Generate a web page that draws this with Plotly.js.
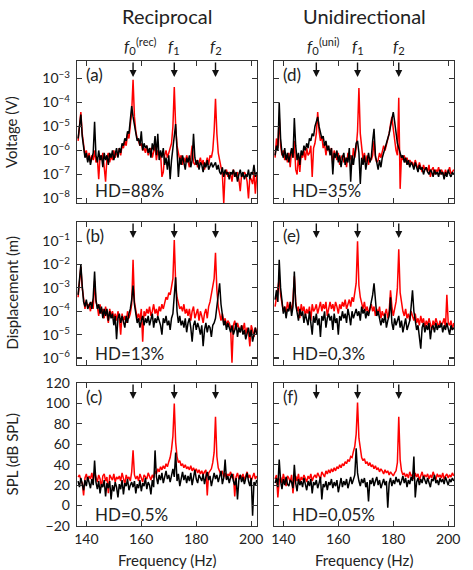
<!DOCTYPE html>
<html>
<head>
<meta charset="utf-8">
<script src="https://cdn.plot.ly/plotly-3.0.1.min.js"></script>
<style>
  html, body { margin: 0; padding: 0; background: #fff; }
  #chart { width: 473px; height: 570px; }
</style>
</head>
<body>
<div id="chart"></div>
<script>
// Voltage and displacement are stored as log10 of the amplitude.
const FREQ_START = 137;
const FREQ_STEP = 0.5;

// (a) Reciprocal, voltage, log10(V)
const voltRecRed = [
  -5.6, -5.0, -4.4, -5.3, -5.9, -6.2, -6.0, -6.4, -6.1, -6.5,
  -6.2, -6.4, -6.0, -6.5, -6.3, -7.2, -6.2, -6.4, -6.1, -6.6,
  -7.3, -6.3, -6.1, -6.5, -6.2, -6.4, -6.0, -6.3, -6.1, -6.2,
  -5.9, -6.2, -5.8, -5.9, -5.6, -5.8, -5.3, -5.5, -4.9, -4.4,
  -3.05, -4.6, -5.2, -5.5, -5.6, -5.8, -5.7, -6.0, -5.9, -6.1,
  -5.8, -6.2, -6.0, -5.9, -6.3, -6.1, -5.8, -6.4, -6.0, -6.2,
  -6.1, -7.1, -6.9, -6.2, -6.0, -6.3, -6.1, -5.9, -5.7, -5.0,
  -3.35, -5.0, -5.8, -6.1, -6.4, -6.2, -6.6, -6.3, -6.5, -6.2,
  -6.4, -6.7, -6.3, -5.8, -6.5, -6.6, -6.4, -6.7, -6.5, -6.3,
  -6.6, -6.4, -6.8, -6.5, -6.3, -6.6, -6.2, -6.3, -6.0, -5.2,
  -3.85, -5.3, -6.1, -6.4, -6.8, -7.0, -8.2, -6.9, -6.8, -7.1,
  -6.9, -7.0, -7.3, -6.8, -7.0, -7.1, -6.9, -7.2, -7.7, -7.0,
  -7.1, -6.9, -7.0, -7.3, -8.0, -7.1, -7.2, -7.4, -6.9, -7.8,
  -7.0
];
const voltRecBlack = [
  -5.5, -5.1, -4.5, -5.4, -6.0, -6.3, -6.1, -6.5, -6.2, -6.6,
  -6.3, -6.1, -4.8, -6.2, -6.5, -6.0, -6.4, -6.2, -6.7, -6.1,
  -6.4, -6.2, -6.6, -6.1, -6.3, -6.0, -6.4, -6.2, -5.9, -6.3,
  -5.9, -6.1, -5.7, -5.8, -5.5, -5.6, -5.2, -5.3, -4.8, -4.15,
  -4.6, -5.0, -5.3, -5.6, -5.5, -5.8, -5.2, -6.0, -5.7, -5.9,
  -5.8, -6.1, -5.9, -6.3, -5.7, -6.0, -5.4, -6.2, -5.3, -6.4,
  -6.0, -6.3, -5.9, -6.6, -6.3, -6.8, -6.2, -7.2, -6.4, -6.0,
  -5.4, -4.9, -6.0, -7.1, -6.3, -6.6, -6.2, -6.5, -6.8, -6.3,
  -6.5, -6.2, -6.7, -6.4, -5.3, -6.3, -6.6, -6.4, -6.8, -6.5,
  -6.6, -6.9, -6.5, -6.7, -6.4, -6.8, -6.6, -6.5, -6.7, -6.6,
  -6.5, -6.8, -6.6, -6.9, -7.0, -6.7, -7.1, -6.8, -7.0, -6.9,
  -7.2, -6.9, -7.0, -6.8, -7.1, -6.9, -7.3, -7.0, -6.8, -7.1,
  -6.9, -7.2, -7.0, -7.1, -6.8, -7.2, -6.9, -7.0, -6.6, -7.1,
  -6.9
];

// (b) Reciprocal, displacement, log10(m)
const dispRecRed = [
  -3.4, -2.7, -2.1, -3.0, -3.5, -3.9, -3.6, -3.8, -3.7, -4.0,
  -3.6, -3.9, -2.7, -3.6, -3.8, -4.2, -3.7, -4.1, -3.9, -4.3,
  -3.8, -4.1, -4.5, -3.9, -4.2, -4.0, -4.3, -4.1, -4.4, -4.0,
  -4.3, -5.0, -4.1, -4.4, -4.2, -4.5, -4.0, -4.3, -4.1, -3.7,
  -1.8, -3.6, -4.0, -4.3, -4.1, -4.4, -3.9, -5.3, -4.0, -4.2,
  -3.9, -4.1, -3.8, -4.2, -4.0, -3.7, -4.1, -3.9, -4.2, -3.8,
  -4.0, -3.7, -3.9, -3.6, -3.4, -3.5, -3.2, -3.3, -3.0, -2.6,
  -0.95, -2.8, -3.4, -3.7, -3.9, -3.8, -4.0, -3.7, -4.1, -3.9,
  -4.2, -3.9, -4.4, -4.0, -3.8, -4.3, -4.1, -3.9, -4.4, -4.0,
  -4.2, -4.5, -4.1, -3.9, -4.3, -3.8, -3.6, -3.3, -3.0, -2.6,
  -1.5, -3.1, -3.8, -4.2, -4.4, -4.1, -4.5, -4.3, -4.6, -4.4,
  -4.5, -4.7, -6.2, -4.6, -4.4, -4.8, -4.5, -4.7, -4.9, -4.6,
  -4.8, -4.5, -5.0, -4.7, -4.9, -5.5, -4.6, -4.8, -5.1, -4.7,
  -4.9
];
const dispRecBlack = [
  -3.3, -2.6, -2.0, -2.9, -3.6, -3.8, -3.5, -3.9, -3.7, -3.6,
  -3.9, -3.4, -2.3, -3.5, -3.9, -3.7, -4.1, -3.8, -4.3, -3.9,
  -4.2, -3.9, -4.4, -4.0, -4.3, -4.1, -4.6, -4.2, -5.2, -4.3,
  -4.1, -4.5, -4.2, -4.4, -4.7, -4.2, -4.5, -4.1, -3.9, -3.5,
  -2.9, -3.7, -4.2, -4.5, -4.3, -4.7, -4.4, -4.2, -4.6, -4.3,
  -4.5, -4.2, -4.6, -4.4, -4.1, -4.7, -4.3, -4.5, -4.2, -4.4,
  -4.6, -5.0, -4.3, -4.5, -4.2, -4.6, -4.4, -4.8, -4.3, -4.1,
  -3.4, -2.55, -4.0, -4.5, -4.2, -4.6, -4.4, -4.7, -4.3, -4.9,
  -4.5, -4.3, -4.7, -5.3, -4.6, -4.4, -4.8, -4.5, -4.7, -5.0,
  -4.6, -5.5, -4.8, -4.5, -4.9, -4.6, -4.7, -5.1, -4.6, -4.5,
  -4.3, -3.8, -3.4, -2.8, -3.7, -4.2, -4.6, -4.4, -4.8, -4.5,
  -4.7, -4.9, -4.6, -5.0, -4.8, -4.5, -5.1, -4.7, -4.9, -4.6,
  -5.0, -4.8, -5.2, -4.9, -4.7, -5.1, -4.8, -5.3, -4.9, -4.7,
  -5.0
];

// (c) Reciprocal, SPL in dB
const splRecRed = [
  28, 30, 25, 22, 10, 27, 31, 24, 29, 26,
  32, 25, 33, 27, 23, 30, 26, 18, 29, 31,
  24, 28, 12, 30, 27, 25, 31, 23, 28, 26,
  29, 24, 32, 27, 21, 30, 26, 28, 24, 33,
  54, 30, 26, 29, 24, 31, 27, 23, 30, 28,
  26, 32, 28, 25, 30, 27, 34, 31, 36, 33,
  38, 35, 39, 36, 41, 38, 43, 47, 55, 68,
  100, 62, 48, 42, 44, 39, 41, 37, 40, 36,
  38, 35, 39, 34, 37, 33, 36, 32, 35, 31,
  34, 30, 33, 35, 10, 32, 34, 36, 42, 52,
  87, 48, 37, 33, 30, 34, 28, 32, 26, 31,
  29, 33, 27, 31, 9, 28, 32, 26, 30, 27,
  31, 25, 29, 33, 27, 30, 24, 28, 32, 26,
  29
];
const splRecBlack = [
  24, 18, 27, 21, 15, 25, 19, 28, 22, 17,
  26, 20, 44, 23, 16, 24, 12, 21, 18, 25,
  9, 22, 17, 24, 6, 20, 14, 23, 18, 8,
  21, 16, 25, 11, 22, 19, 26, 15, 20, 23,
  18, 24, 12, 21, 17, 25, 14, 22, 19, 27,
  16, 23, 20, 11, 25, 18, 54, 28, 21, 30,
  25, 32, 22, 29, 34, 26, 30, 23, 31, 36,
  28, 52, 24, 31, 19, 27, 33, 25, 30, 22,
  29, 24, 32, 20, 28, 35, 26, 22, 30, 27,
  24, 31, 21, 28, 33, 25, 29, 19, 27, 32,
  26, 30, 23, 28, 34, 21, 27, 45, 25, 29,
  22, 28, 31, 24, 20, 27, 6, 25, 30, 23,
  28, 21, 26, 32, 24, 19, 27, -10, 23, 20,
  25
];

// (d) Unidirectional, voltage, log10(V)
const voltUniRed = [
  -6.3, -5.5, -5.9, -4.6, -5.8, -6.2, -6.0, -6.4, -6.2, -6.5,
  -6.1, -6.7, -6.0, -6.3, -5.6, -6.8, -7.0, -6.2, -6.9, -6.1,
  -6.3, -6.0, -6.4, -5.9, -6.2, -6.1, -5.8, -7.1, -5.9, -5.7,
  -5.3, -4.4, -5.2, -5.6, -5.4, -5.9, -5.7, -6.2, -5.8, -6.0,
  -6.1, -5.9, -6.6, -6.0, -6.2, -6.4, -6.1, -6.6, -6.3, -6.2,
  -6.5, -6.3, -6.7, -6.1, -6.4, -6.2, -6.6, -5.9, -6.3, -5.9,
  -5.2, -3.4, -5.3, -6.0, -6.4, -6.1, -6.5, -6.2, -6.6, -6.3,
  -6.4, -6.2, -5.6, -6.3, -6.5, -6.4, -6.1, -6.3, -6.0, -5.8,
  -6.0, -5.8, -5.6, -5.3, -4.9, -4.6, -5.1, -5.6, -6.0, -6.2,
  -3.8, -7.6, -6.2, -6.4, -6.2, -6.5, -6.3, -6.6, -6.4, -6.5,
  -6.5, -6.7, -6.4, -6.6, -6.8, -6.5, -6.7, -6.9, -6.6, -6.8,
  -6.7, -6.9, -6.6, -7.1, -6.8, -6.7, -7.0, -6.8, -6.9, -6.7,
  -7.0, -6.8, -6.9, -7.1, -6.8, -7.0, -6.9, -6.7, -7.0, -6.9,
  -6.8
];
const voltUniBlack = [
  -6.2, -5.8, -6.0, -4.0, -5.5, -6.1, -6.3, -5.9, -6.4, -6.1,
  -6.5, -6.2, -5.9, -6.3, -4.65, -5.8, -6.4, -6.1, -6.6, -6.0,
  -6.2, -5.8, -6.0, -5.7, -5.9, -5.5, -5.6, -5.3, -5.4, -5.0,
  -4.8, -4.6, -5.0, -5.3, -5.5, -5.4, -5.8, -5.6, -6.0, -5.8,
  -6.2, -5.9, -7.0, -6.1, -6.3, -6.0, -6.5, -6.2, -6.7, -6.3,
  -6.1, -6.6, -6.3, -6.5, -5.9, -7.3, -6.2, -6.6, -6.0, -5.7,
  -5.6, -6.1, -7.4, -6.3, -6.6, -6.2, -6.8, -6.4, -6.1, -6.5,
  -6.3, -5.6, -5.1, -6.2, -6.6, -6.8, -6.4, -6.7, -6.3, -6.1,
  -6.0, -5.8, -5.6, -5.3, -5.0, -4.6, -4.4, -4.8, -5.3, -5.7,
  -5.9, -6.1, -6.3, -6.2, -6.5, -6.3, -6.6, -6.4, -6.7, -6.5,
  -6.6, -6.8, -6.5, -6.7, -6.9, -6.6, -6.8, -6.7, -7.0, -6.8,
  -6.7, -6.9, -7.0, -6.8, -6.9, -7.1, -6.8, -7.0, -6.9, -7.1,
  -6.8, -7.0, -6.9, -7.2, -6.9, -7.1, -6.8, -7.0, -7.1, -6.9,
  -7.0
];

// (e) Unidirectional, displacement, log10(m)
const dispUniRed = [
  -3.8, -3.4, -3.0, -2.6, -3.3, -3.7, -4.0, -3.8, -4.1, -3.6,
  -3.9, -3.7, -4.0, -3.5, -2.5, -3.6, -4.0, -3.8, -4.3, -3.7,
  -4.0, -3.8, -4.2, -3.9, -4.1, -3.8, -4.4, -3.7, -4.0, -3.9,
  -3.7, -4.1, -3.8, -3.6, -4.0, -3.7, -3.9, -3.6, -4.2, -3.8,
  -3.6, -3.9, -3.7, -4.0, -3.6, -3.8, -4.1, -3.7, -3.9, -3.6,
  -3.8, -3.5, -3.9, -3.7, -3.5, -3.8, -3.4, -3.6, -3.2, -2.8,
  -1.0, -2.9, -3.4, -3.7, -3.9, -3.6, -4.0, -3.8, -4.1, -3.9,
  -3.7, -4.0, -3.8, -4.2, -3.9, -4.1, -3.8, -4.3, -4.0, -4.2,
  -4.1, -3.9, -4.3, -4.0, -3.1, -3.8, -4.2, -3.9, -3.6, -3.0,
  -1.35, -3.2, -3.7, -4.0, -4.2, -3.9, -4.3, -4.1, -4.4, -4.0,
  -4.2, -4.4, -4.1, -4.5, -4.3, -4.6, -4.2, -4.5, -4.3, -4.7,
  -4.4, -4.6, -4.3, -4.5, -4.8, -4.4, -4.6, -4.3, -4.5, -4.7,
  -4.4, -4.6, -4.5, -4.3, -4.7, -3.3, -4.5, -4.6, -4.4, -4.8,
  -4.5
];
const dispUniBlack = [
  -3.5, -3.1, -3.6, -1.8, -3.0, -3.6, -4.1, -3.8, -4.3, -3.9,
  -4.0, -3.6, -4.2, -3.8, -2.3, -3.7, -4.1, -4.4, -3.9, -4.2,
  -4.0, -4.5, -4.1, -4.3, -4.6, -4.0, -4.4, -5.0, -4.2, -4.5,
  -4.1, -4.6, -4.3, -5.1, -4.2, -4.4, -4.0, -4.7, -4.3, -4.1,
  -4.4, -4.2, -4.8, -4.1, -4.5, -4.3, -5.0, -4.2, -4.4, -4.0,
  -4.3, -4.1, -4.5, -3.9, -4.2, -4.6, -4.0, -4.3, -4.1, -3.9,
  -4.2, -4.0, -4.4, -3.8, -4.1, -3.9, -4.3, -4.0, -4.2, -3.9,
  -3.7, -3.3, -2.8, -3.6, -4.2, -4.0, -4.4, -4.6, -4.3, -4.5,
  -4.1, -4.7, -4.4, -4.2, -3.4, -4.5, -4.8, -4.3, -4.6, -4.4,
  -4.2, -4.7, -4.4, -4.9, -4.5, -4.3, -4.8, -4.6, -4.4, -3.8,
  -3.1, -4.0, -4.5, -4.8, -4.6, -5.0, -5.6, -4.7, -4.5, -4.9,
  -4.6, -4.8, -4.5, -5.2, -4.7, -4.6, -4.9, -4.5, -4.8, -4.6,
  -4.7, -4.5, -4.9, -4.6, -4.8, -4.5, -4.7, -5.0, -4.6, -4.8,
  -4.7
];

// (f) Unidirectional, SPL in dB
const splUniRed = [
  26, 30, 8, 24, 28, 22, 31, 25, 19, 29,
  27, 23, 30, 12, 26, 29, 24, 31, 22, 28,
  25, 30, 27, 23, 29, 26, 31, 24, 28, 30,
  27, 32, 29, 26, 33, 30, 28, 34, 31, 35,
  32, 36, 33, 37, 34, 38, 36, 40, 37, 41,
  39, 43, 41, 45, 43, 48, 47, 53, 58, 70,
  101, 66, 53, 47, 44, 46, 41, 43, 39, 42,
  38, 40, 36, 39, 35, 37, 33, 36, 34, 31,
  35, 32, 34, 30, 33, 31, 29, 32, 34, 42,
  87, 45, 34, 30, 32, 28, 31, 27, 33, 29,
  30, 26, 32, 28, 31, 25, 29, 33, 27, 30,
  28, 31, 26, 30, 27, 33, 29, 25, 31, 28,
  30, 27, 32, 26, 29, 31, 27, 30, 28, 32,
  29
];
const splUniBlack = [
  22, 27, 18, 45, 24, 16, 26, 20, 28, 21,
  19, 25, 23, 17, 40, 22, 14, 26, 20, 24,
  18, 27, 21, 15, 24, 19, 26, 12, 23, 20,
  25, 17, 22, 28, 6, 21, 18, 24, 15, 23,
  20, 26, 17, 23, 19, 25, 13, 22, 27, 18,
  24, 20, 26, 17, 23, 28, 21, 25, 30, 56,
  32, 24, 19, 26, 22, 27, 18, 23, 4, 25,
  21, 27, 19, 24, 28, 20, 25, 17, 23, 26,
  20, 24, -2, 22, 27, 19, 25, 21, 28, 23,
  26, 20, 24, 29, 22, 27, 18, 25, 21, 28,
  24, 48, 8, 23, 27, 20, 26, 22, 29, 24,
  21, 27, 23, 18, 26, 24, 30, 22, 25, 20,
  27, 23, 26, 21, 28, 24, 20, 26, 23, 27,
  24
];

// Marked frequencies (Hz)
const markRec = [157, 172, 187];
const markUni = [152, 167, 182];
const panelNames = ['(a)', '(b)', '(c)', '(d)', '(e)', '(f)'];
const hdValues = ['88%', '13%', '0.5%', '35%', '0.3%', '0.05%'];
const rowTitles = ['Voltage (V)', 'Displacement (m)', 'SPL (dB SPL)'];
const colTitles = ['Reciprocal', 'Unidirectional'];
const logTicksV = [-8, -7, -6, -5, -4, -3];
const logTicksD = [-6, -5, -4, -3, -2, -1];

// ---- layout geometry (pixels) ----
const W = 473, H = 570;
const FONT = 'Lato, "Open Sans", sans-serif';
const INK = '#222';
const colPx = [[77, 257], [274, 454]];
const rowPx = [[61, 203], [222, 365], [383, 526]];
const px = v => v / W;
const py = v => 1 - v / H;

const series = [
  [voltRecRed, voltRecBlack], [dispRecRed, dispRecBlack], [splRecRed, splRecBlack],
  [voltUniRed, voltUniBlack], [dispUniRed, dispUniBlack], [splUniRed, splUniBlack]
];

const traces = [];
const layout = {
  width: W, height: H,
  margin: { l: 0, r: 0, t: 0, b: 0 },
  paper_bgcolor: '#fff', plot_bgcolor: '#fff',
  showlegend: false,
  font: { family: FONT, size: 14, color: INK },
  annotations: []
};

function superExp(v) {
  return '10<sup>\u2212' + Math.abs(v) + '</sup>';
}

series.forEach((pair, k) => {
  const col = k < 3 ? 0 : 1;
  const row = k % 3;
  const n = k + 1;
  const xName = n === 1 ? 'x' : 'x' + n;
  const yName = n === 1 ? 'y' : 'y' + n;

  ['#ff0000', '#000000'].forEach((c, j) => {
    traces.push({
      type: 'scatter', mode: 'lines',
      y: pair[j], x0: FREQ_START, dx: FREQ_STEP,
      xaxis: xName, yaxis: yName,
      line: { color: c, width: 1.5 },
      hoverinfo: 'skip'
    });
  });

  const common = {
    showline: true, linecolor: '#333', linewidth: 1.3,
    mirror: 'ticks', ticks: 'inside', ticklen: 5, tickwidth: 1.2, tickcolor: '#333',
    showgrid: false, zeroline: false,
    tickfont: { family: FONT, size: 14, color: INK }
  };

  layout['xaxis' + (n === 1 ? '' : n)] = Object.assign({}, common, {
    domain: [px(colPx[col][0]), px(colPx[col][1])],
    anchor: yName,
    range: [136.6, 202.1],
    tickmode: 'linear', tick0: 140, dtick: 20,
    showticklabels: row === 2,
    ticklabelstandoff: 0
  });

  const yax = Object.assign({}, common, {
    domain: [py(rowPx[row][1]), py(rowPx[row][0])],
    anchor: xName,
    showticklabels: col === 0,
    ticklabelstandoff: 3
  });
  if (row === 0) {
    Object.assign(yax, { range: [-8.19, -2.27], tickmode: 'array', tickvals: logTicksV, ticktext: logTicksV.map(superExp) });
  } else if (row === 1) {
    Object.assign(yax, { range: [-6.3, -0.18], tickmode: 'array', tickvals: logTicksD, ticktext: logTicksD.map(superExp) });
  } else {
    Object.assign(yax, { range: [-20, 120], tickmode: 'linear', tick0: 0, dtick: 20 });
  }
  layout['yaxis' + (n === 1 ? '' : n)] = yax;

  // arrows marking f0, f1, f2
  const marks = col === 0 ? markRec : markUni;
  marks.forEach(f => {
    layout.annotations.push({
      xref: xName, yref: 'paper', x: f, y: py(rowPx[row][0] + 16),
      text: '', showarrow: true, ax: 0, ay: -16,
      arrowhead: 2, arrowsize: 1, arrowwidth: 1.4, arrowcolor: '#111'
    });
  });

  // panel letter and HD value
  layout.annotations.push({
    xref: 'paper', yref: 'paper', x: px(colPx[col][0] + 7), y: py(rowPx[row][0] + 14),
    xanchor: 'left', yanchor: 'middle', showarrow: false,
    text: panelNames[k], font: { size: 17, color: INK }
  });
  layout.annotations.push({
    xref: 'paper', yref: 'paper', x: px(colPx[col][0] + 16), y: py(rowPx[row][1] - 12),
    xanchor: 'left', yanchor: 'middle', showarrow: false,
    text: 'HD=' + hdValues[k], font: { size: 17, color: INK }
  });
});

// f labels above the top row
[[markRec, 'x', '(rec)'], [markUni, 'x4', '(uni)']].forEach(([marks, xr, sup]) => {
  layout.annotations.push({
    xref: xr, yref: 'paper', x: marks[0], y: py(59), xanchor: 'center', yanchor: 'bottom',
    xshift: -3, showarrow: false, text: '<i>f</i><sub>0</sub>', font: { size: 16, color: INK }
  });
  layout.annotations.push({
    xref: xr, yref: 'paper', x: marks[0], y: py(41), xanchor: 'left', yanchor: 'middle',
    xshift: 1, showarrow: false, text: sup, font: { size: 11, color: INK }
  });
  layout.annotations.push({
    xref: xr, yref: 'paper', x: marks[1], y: py(59), xanchor: 'center', yanchor: 'bottom',
    showarrow: false, text: '<i>f</i><sub>1</sub>', font: { size: 16, color: INK }
  });
  layout.annotations.push({
    xref: xr, yref: 'paper', x: marks[2], y: py(59), xanchor: 'center', yanchor: 'bottom',
    showarrow: false, text: '<i>f</i><sub>2</sub>', font: { size: 16, color: INK }
  });
});

// column titles and x titles
colTitles.forEach((t, c) => {
  const cx = (colPx[c][0] + colPx[c][1]) / 2;
  layout.annotations.push({
    xref: 'paper', yref: 'paper', x: px(cx), y: py(16), xanchor: 'center', yanchor: 'middle',
    showarrow: false, text: t, font: { size: 20, color: INK }
  });
  layout.annotations.push({
    xref: 'paper', yref: 'paper', x: px(cx), y: py(560), xanchor: 'center', yanchor: 'middle',
    showarrow: false, text: 'Frequency (Hz)', font: { size: 15, color: INK }
  });
});

// row titles
rowTitles.forEach((t, r) => {
  layout.annotations.push({
    xref: 'paper', yref: 'paper', x: px(11), y: py((rowPx[r][0] + rowPx[r][1]) / 2),
    xanchor: 'center', yanchor: 'middle', textangle: -90,
    showarrow: false, text: t, font: { size: 15, color: INK }
  });
});

Plotly.newPlot('chart', traces, layout, { displayModeBar: false, staticPlot: true });
</script>
</body>
</html>
